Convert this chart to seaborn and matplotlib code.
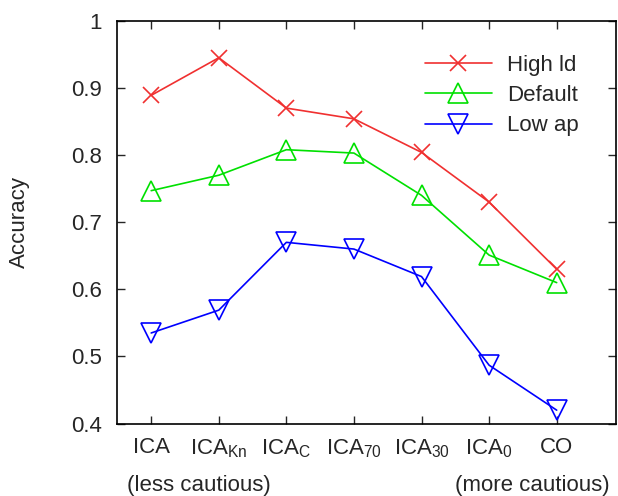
import matplotlib
matplotlib.use("Agg")
import matplotlib.pyplot as plt
import seaborn as sns
import pandas as pd

categories = ["ICA", r"ICA$_{\mathrm{Kn}}$", r"ICA$_{\mathrm{C}}$", r"ICA$_{\mathrm{70}}$",
              r"ICA$_{\mathrm{30}}$", r"ICA$_{\mathrm{0}}$", "CO"]
high_ld = [0.889, 0.945, 0.870, 0.854, 0.804, 0.730, 0.630]
default = [0.747, 0.770, 0.808, 0.803, 0.740, 0.651, 0.610]
low_ap = [0.535, 0.569, 0.670, 0.660, 0.619, 0.487, 0.420]
series_names = ["High ld", "Default", "Low ap"]
yticks = [0.4, 0.5, 0.6, 0.7, 0.8, 0.9, 1.0]
ytick_labels = ["0.4", "0.5", "0.6", "0.7", "0.8", "0.9", "1"]

sns.set_style("ticks")
plt.rcParams["font.family"] = ["Liberation Sans", "DejaVu Sans"]
plt.rcParams["mathtext.fontset"] = "custom"
plt.rcParams["mathtext.rm"] = "Liberation Sans"
plt.rcParams["mathtext.it"] = "Liberation Sans"
plt.rcParams["mathtext.bf"] = "Liberation Sans"

FS = 16
fig = plt.figure(figsize=(6.18, 4.96), dpi=100)
ax = fig.add_axes([0.190, 0.146, 0.807, 0.812])

colors = ["#f03030", "#00e000", "#0000ff"]
markers = ["x", "^", "v"]
sizes = [12, 14, 14]
for name, vals, c, m, s in zip(series_names, [high_ld, default, low_ap], colors, markers, sizes):
    df = pd.DataFrame({"x": list(range(len(categories))), "y": vals})
    sns.lineplot(data=df, x="x", y="y", ax=ax, color=c, marker=m, markersize=s,
                 markerfacecolor="none", markeredgecolor=c, markeredgewidth=1.2,
                 linewidth=1.2, label=name)

ax.set_xlim(-0.5, 6.88)
ax.set_ylim(0.4, 1.0)
ax.set_xticks(range(len(categories)))
ax.set_xticklabels(categories, fontsize=FS)
ax.set_yticks(yticks)
ax.set_yticklabels(ytick_labels, fontsize=FS)
ax.tick_params(direction="in", length=6, width=1, top=True, right=True)
ax.tick_params(axis="x", pad=10)
ax.tick_params(axis="y", pad=11)
for sp in ax.spines.values():
    sp.set_linewidth(1.2)
    sp.set_color("black")
ax.set_xlabel("")
ax.set_ylabel("Accuracy", fontsize=FS)
ax.yaxis.set_label_coords(-0.175, 0.5)

fig.text(199 / 618, 1 - 485 / 496, "(less cautious)", ha="center", va="center", fontsize=FS)
fig.text(532 / 618, 1 - 485 / 496, "(more cautious)", ha="center", va="center", fontsize=FS)

ax.legend(loc="upper left", bbox_to_anchor=(0.617, 0.915), frameon=False, fontsize=FS,
          handlelength=3.0, handletextpad=0.68, labelspacing=0.41, borderpad=0, borderaxespad=0)

fig.savefig("out.png", dpi=100)
